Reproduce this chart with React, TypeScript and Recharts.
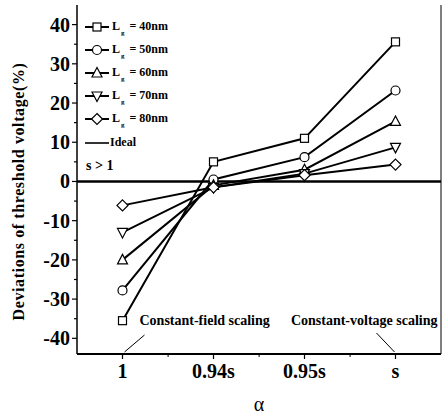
import React from 'react';
import { LineChart, Line, XAxis, YAxis, ReferenceLine, ReferenceDot, Legend } from 'recharts';

const categories = ['1', '0.94s', '0.95s', 's'];
const lg40 = [-35.5, 5, 11, 35.6];
const lg50 = [-27.8, 0.5, 6.2, 23.2];
const lg60 = [-20, -1, 3, 15.3];
const lg70 = [-13, -1.5, 2, 8.7];
const lg80 = [-6.1, -1.5, 1.6, 4.3];
const seriesLabels = ['40nm', '50nm', '60nm', '70nm', '80nm'];
const seriesKeys = ['lg40', 'lg50', 'lg60', 'lg70', 'lg80'];
const seriesShapes = ['square', 'circle', 'up', 'down', 'diamond'];
const yTicks = [-40, -35, -30, -25, -20, -15, -10, -5, 0, 5, 10, 15, 20, 25, 30, 35, 40];
const yDomain = [-44, 45];
const idealLabel = 'Ideal';
const conditionLabel = 's > 1';
const yTitle = 'Deviations of threshold voltage(%)';
const xTitle = 'α';
const annotFieldText = 'Constant-field scaling';
const annotVoltageText = 'Constant-voltage scaling';

const data = categories.map((c, i) => ({
  alpha: c,
  lg40: lg40[i],
  lg50: lg50[i],
  lg60: lg60[i],
  lg70: lg70[i],
  lg80: lg80[i],
}));

const FONT = '"Liberation Serif", "Times New Roman", serif';
const HALF_BAND = 45.6;

function Marker({ shape, cx, cy }: { shape: string; cx: number; cy: number }) {
  const common = { fill: '#fff', stroke: '#000', strokeWidth: 1.2 };
  if (shape === 'square') return <rect x={cx - 4} y={cy - 4} width={8} height={8} {...common} />;
  if (shape === 'circle') return <circle cx={cx} cy={cy} r={4.5} {...common} />;
  if (shape === 'up')
    return <polygon points={`${cx},${cy - 5.5} ${cx - 5},${cy + 4} ${cx + 5},${cy + 4}`} {...common} />;
  if (shape === 'down')
    return <polygon points={`${cx - 5},${cy - 4} ${cx + 5},${cy - 4} ${cx},${cy + 5.5}`} {...common} />;
  return <polygon points={`${cx},${cy - 5.5} ${cx + 5.5},${cy} ${cx},${cy + 5.5} ${cx - 5.5},${cy}`} {...common} />;
}

function YTick(props: any) {
  const { x, y, payload } = props;
  const major = payload.value % 10 === 0;
  return (
    <g>
      <line x1={x - (major ? 5 : 3)} x2={x} y1={y} y2={y} stroke="#000" strokeWidth={1.2} />
      {major && (
        <text x={x - 7} y={y + 7} textAnchor="end" fontFamily={FONT} fontWeight="bold" fontSize={20} fill="#000">
          {payload.value}
        </text>
      )}
    </g>
  );
}

function XTick(props: any) {
  const { x, y, payload, index } = props;
  return (
    <g>
      <line x1={x} x2={x} y1={y} y2={y + 5} stroke="#000" strokeWidth={1.2} />
      {index < categories.length - 1 && (
        <line x1={x + HALF_BAND} x2={x + HALF_BAND} y1={y} y2={y + 3} stroke="#000" strokeWidth={1} />
      )}
      <text x={x} y={y + 24} textAnchor="middle" fontFamily={FONT} fontWeight="bold" fontSize={20} fill="#000">
        {payload.value}
      </text>
    </g>
  );
}

function YTitle(props: any) {
  const vb = props.viewBox || { x: 0, y: 0, width: 0, height: 0 };
  const cx = vb.x + 18;
  const cy = vb.y + vb.height / 2 + 12;
  return (
    <text
      x={cx}
      y={cy}
      transform={`rotate(-90, ${cx}, ${cy})`}
      textAnchor="middle"
      dominantBaseline="central"
      fontFamily={FONT}
      fontWeight="bold"
      fontSize={16}
      letterSpacing={0.6}
      fill="#000"
    >
      {yTitle}
    </text>
  );
}

function XTitle(props: any) {
  const vb = props.viewBox || { x: 0, y: 0, width: 0, height: 0 };
  return (
    <text x={vb.x + vb.width / 2} y={vb.y + 57} textAnchor="middle" fontFamily={FONT} fontSize={20} fill="#000">
      {xTitle}
    </text>
  );
}

function LegendBox() {
  const rowStyle: React.CSSProperties = { display: 'flex', alignItems: 'center', height: 23, whiteSpace: 'nowrap' };
  const textStyle: React.CSSProperties = { fontFamily: FONT, fontWeight: 'bold', fontSize: 12, color: '#000', marginLeft: 3 };
  return (
    <div style={{ lineHeight: 1 }}>
      {seriesLabels.map((lab, i) => (
        <div key={lab} style={rowStyle}>
          <svg width={24} height={14}>
            <line x1={0} x2={24} y1={7} y2={7} stroke="#000" strokeWidth={2} />
            <Marker shape={seriesShapes[i]} cx={12} cy={7} />
          </svg>
          <span style={textStyle}>
            L<sub style={{ fontSize: 7, verticalAlign: -5, marginLeft: 1, marginRight: 2, lineHeight: 0 }}>g</sub> = {lab}
          </span>
        </div>
      ))}
      <div style={rowStyle}>
        <svg width={24} height={14}>
          <line x1={0} x2={24} y1={8} y2={8} stroke="#000" strokeWidth={1.6} />
        </svg>
        <span style={{ ...textStyle, marginLeft: 1 }}>{idealLabel}</span>
      </div>
      <div style={{ ...rowStyle, height: 26 }}>
        <span style={{ ...textStyle, fontSize: 14, marginLeft: 1 }}>{conditionLabel}</span>
      </div>
    </div>
  );
}

function FieldAnnot(props: any) {
  const { cx, cy } = props;
  return (
    <g>
      <line x1={cx + 2} y1={cy - 2} x2={cx + 22} y2={cy - 19} stroke="#000" strokeWidth={1} />
      <text x={cx + 17} y={cy - 29} fontFamily={FONT} fontWeight="bold" fontSize={14} fill="#000">
        {annotFieldText}
      </text>
    </g>
  );
}

function VoltageAnnot(props: any) {
  const { cx, cy } = props;
  return (
    <g>
      <line x1={cx - 1} y1={cy - 2} x2={cx - 19} y2={cy - 21} stroke="#000" strokeWidth={1} />
      <text x={cx + 42} y={cy - 29} textAnchor="end" fontFamily={FONT} fontWeight="bold" fontSize={14} fill="#000">
        {annotVoltageText}
      </text>
    </g>
  );
}

export default function App() {
  return (
    <div style={{ position: 'absolute', left: 0, top: 0, background: '#fff' }}>
      <LineChart width={443} height={414} data={data} margin={{ top: 5, right: 1, left: 0, bottom: 20 }}>
        <XAxis
          xAxisId="main"
          dataKey="alpha"
          scale="band"
          interval={0}
          tickSize={0}
          tickMargin={0}
          tickLine={false}
          tick={<XTick />}
          height={40}
          axisLine={{ stroke: '#000', strokeWidth: 2 }}
          label={<XTitle />}
        />
        <XAxis
          xAxisId="top"
          orientation="top"
          dataKey="alpha"
          scale="band"
          height={0}
          tick={false}
          tickLine={false}
          axisLine={{ stroke: '#000', strokeWidth: 1 }}
        />
        <YAxis
          yAxisId="left"
          type="number"
          domain={yDomain}
          ticks={yTicks}
          interval={0}
          width={77}
          tickSize={0}
          tickMargin={0}
          tickLine={false}
          tick={<YTick />}
          axisLine={{ stroke: '#000', strokeWidth: 1.5 }}
          allowDataOverflow
          label={<YTitle />}
        />
        <YAxis
          yAxisId="right"
          orientation="right"
          type="number"
          domain={yDomain}
          width={1}
          tick={false}
          tickLine={false}
          axisLine={{ stroke: '#000', strokeWidth: 1 }}
        />
        <ReferenceLine xAxisId="main" yAxisId="left" y={0} stroke="#000" strokeWidth={2.5} />
        {seriesKeys.map((k, i) => (
          <Line
            key={k}
            xAxisId="main"
            yAxisId="left"
            dataKey={k}
            name={seriesLabels[i]}
            stroke="#000"
            strokeWidth={2}
            isAnimationActive={false}
            dot={(p: any) => <Marker key={`${k}-${p.index}`} shape={seriesShapes[i]} cx={p.cx} cy={p.cy} />}
            activeDot={false}
          />
        ))}
        <ReferenceDot xAxisId="main" yAxisId="left" x={categories[0]} y={yDomain[0]} r={0} shape={<FieldAnnot />} />
        <ReferenceDot xAxisId="main" yAxisId="left" x={categories[3]} y={yDomain[0]} r={0} shape={<VoltageAnnot />} />
        <Legend
          layout="vertical"
          align="center"
          verticalAlign="middle"
          wrapperStyle={{ left: 85, top: 15, width: 110 }}
          content={() => <LegendBox />}
        />
      </LineChart>
    </div>
  );
}
